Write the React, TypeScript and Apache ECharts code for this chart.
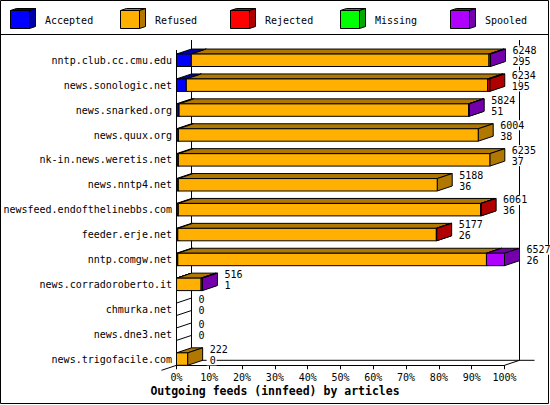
import React, { useEffect, useRef } from "react";
import * as echarts from "echarts";

// ---------- data ----------
const HOSTS = [
  "nntp.club.cc.cmu.edu",
  "news.sonologic.net",
  "news.snarked.org",
  "news.quux.org",
  "nk-in.news.weretis.net",
  "news.nntp4.net",
  "newsfeed.endofthelinebbs.com",
  "feeder.erje.net",
  "nntp.comgw.net",
  "news.corradoroberto.it",
  "chmurka.net",
  "news.dne3.net",
  "news.trigofacile.com",
];
const STATUSES = ["Accepted", "Refused", "Rejected", "Missing", "Spooled"];
const OFFERED = [6248, 6234, 5824, 6004, 6235, 5188, 6061, 5177, 6527, 516, 0, 0, 222];
const ACCEPTED = [295, 195, 51, 38, 37, 36, 36, 26, 26, 1, 0, 0, 0];
const REFUSED = [5923, 5999, 5761, 5966, 6198, 5152, 6017, 5145, 6142, 489, 0, 0, 222];
const REJECTED = [0, 40, 0, 0, 0, 0, 8, 6, 0, 0, 0, 0, 0];
const MISSING = [0, 0, 0, 0, 0, 0, 0, 0, 0, 0, 0, 0, 0];
const SPOOLED = [30, 0, 12, 0, 0, 0, 0, 0, 359, 26, 0, 0, 0];
const X_MAX = 100;
const X_STEP = 10;

// ---------- styles ----------
const FRONT_COLORS = ["#0000ff", "#ffb000", "#ff0000", "#00ff00", "#b000ff"];
const SIDE_COLORS = ["#0000a8", "#b07800", "#b00000", "#00a800", "#7400ac"];
const MONO = '"DejaVu Sans Mono", "Liberation Mono", monospace';
const W = 550;
const H = 405;
const DX = 15;
const DY = 5;
const GRID = { left: 176.5, right: 45.5, top: 41.6, bottom: 39.7 };

function App() {
  const ref = useRef<HTMLDivElement>(null);

  useEffect(() => {
    if (!ref.current) return;
    const chart = echarts.init(ref.current, null, { renderer: "svg", width: W, height: H });

    const SEGMENTS = [ACCEPTED, REFUSED, REJECTED, MISSING, SPOOLED];
    const MAXV = Math.max(...OFFERED);
    const toPct = (v: number) => (v / MAXV) * 100;

    const X0 = GRID.left;
    const X1 = W - GRID.right;
    const YB = H - GRID.bottom;
    const BX0 = X0 + DX;
    const BX1 = X1 + DX;
    const BYB = YB - DY;
    const BACK_TOP = 40;

    const seriesList: any[] = SEGMENTS.map((arr, k) => {
      const data = HOSTS.map((_, i) => {
        let start = 0;
        for (let j = 0; j < k; j++) start += SEGMENTS[j][i];
        const end = start + arr[i];
        return [i, toPct(start), toPct(end), arr[i], OFFERED[i]];
      });
      return {
        type: "custom",
        name: STATUSES[k],
        z: 3,
        encode: { x: [1, 2], y: 0 },
        data,
        renderItem: (params: any, api: any) => {
          const i = api.value(0);
          const s = api.value(1);
          const e = api.value(2);
          const v = api.value(3);
          const tot = api.value(4);
          const a = api.coord([s, i]);
          const b = api.coord([e, i]);
          const band = api.size([0, 1])[1];
          const top = a[1];
          const bot = top + band * 0.5;
          const x0 = a[0];
          const x1 = b[0];
          if (!(v > 0)) {
            if (k === 0 && tot === 0) {
              return {
                type: "polygon",
                shape: { points: [[x0, top], [x0 + DX, top - DY], [x0 + DX, bot - DY], [x0, bot]] },
                style: { fill: "none", stroke: "#000", lineWidth: 1 },
              };
            }
            return null;
          }
          return {
            type: "group",
            children: [
              {
                type: "polygon",
                shape: { points: [[x0, top], [x1, top], [x1 + DX, top - DY], [x0 + DX, top - DY]] },
                style: { fill: SIDE_COLORS[k], stroke: "#000", lineWidth: 1 },
              },
              {
                type: "polygon",
                shape: { points: [[x1, top], [x1 + DX, top - DY], [x1 + DX, bot - DY], [x1, bot]] },
                style: { fill: SIDE_COLORS[k], stroke: "#000", lineWidth: 1 },
              },
              {
                type: "rect",
                shape: { x: x0, y: top, width: x1 - x0, height: bot - top },
                style: { fill: FRONT_COLORS[k], stroke: "#000", lineWidth: 1 },
              },
            ],
          };
        },
      };
    });

    seriesList.push({
      type: "custom",
      name: "labels",
      z: 6,
      encode: { x: 1, y: 0 },
      data: HOSTS.map((_, i) => [i, toPct(OFFERED[i]), OFFERED[i], ACCEPTED[i]]),
      renderItem: (params: any, api: any) => {
        const i = api.value(0);
        const p = api.coord([api.value(1), i]);
        const top = p[1];
        const x = p[0] + DX + 4;
        const mk = (txt: string, y: number) => ({
          type: "text",
          x,
          y,
          style: {
            text: txt,
            fill: "#000",
            font: `10px ${MONO}`,
            align: "left",
            verticalAlign: "middle",
            backgroundColor: "#fff",
            padding: [0, 1, 0, 3],
          },
        });
        return {
          type: "group",
          children: [mk(String(api.value(2)), top - 3.5), mk(String(api.value(3)), top + 7.5)],
        };
      },
    });

    const line = (x1: number, y1: number, x2: number, y2: number) => ({
      type: "line",
      z: 1,
      shape: { x1, y1, x2, y2 },
      style: { stroke: "#000", lineWidth: 1 },
    });

    const legend: any[] = STATUSES.map((name, k) => {
      const lx = 10.5 + 110 * k;
      const ly = 10.5;
      const fw = 19;
      const fh = 18;
      const d = 6;
      const dd = 2;
      return {
        type: "group",
        z: 10,
        children: [
          {
            type: "polygon",
            shape: { points: [[lx, ly], [lx + d, ly - dd], [lx + fw + d, ly - dd], [lx + fw, ly]] },
            style: { fill: SIDE_COLORS[k], stroke: "#000", lineWidth: 1 },
          },
          {
            type: "polygon",
            shape: { points: [[lx + fw, ly], [lx + fw + d, ly - dd], [lx + fw + d, ly + fh - dd], [lx + fw, ly + fh]] },
            style: { fill: SIDE_COLORS[k], stroke: "#000", lineWidth: 1 },
          },
          {
            type: "rect",
            shape: { x: lx, y: ly, width: fw, height: fh },
            style: { fill: FRONT_COLORS[k], stroke: "#000", lineWidth: 1 },
          },
          {
            type: "text",
            x: lx + 34.5,
            y: 20,
            style: { text: name, fill: "#000", font: `10px ${MONO}`, align: "left", verticalAlign: "middle" },
          },
        ],
      };
    });

    const option: any = {
      animation: false,
      backgroundColor: "#fff",
      title: {
        text: "Outgoing feeds (innfeed) by articles",
        left: "center",
        top: 385,
        padding: 0,
        textStyle: { fontFamily: MONO, fontSize: 11.5, fontWeight: "bold", color: "#000" },
      },
      grid: { ...GRID, containLabel: false },
      xAxis: {
        type: "value",
        min: 0,
        max: X_MAX,
        interval: X_STEP,
        axisLine: { show: true, lineStyle: { color: "#000", width: 1 } },
        axisTick: { show: true, length: 4, lineStyle: { color: "#000", width: 1 } },
        axisLabel: { formatter: "{value}%", color: "#000", fontFamily: MONO, fontSize: 10, margin: 7 },
        splitLine: { show: false },
      },
      yAxis: {
        type: "category",
        data: HOSTS,
        inverse: true,
        axisLine: { show: false },
        axisTick: { show: false },
        axisLabel: {
          color: "#000",
          fontFamily: MONO,
          fontSize: 10,
          margin: 4.5,
          verticalAlign: "top",
          lineHeight: 12.5,
        },
        splitLine: { show: false },
      },
      graphic: [
        {
          type: "rect",
          z: 0,
          shape: { x: 0.5, y: 0.5, width: 548, height: 403 },
          style: { fill: "none", stroke: "#000", lineWidth: 1 },
        },
        line(0, 34.5, 549, 34.5),
        line(BX0, BACK_TOP, BX0, BYB),
        line(BX1, BACK_TOP, BX1, BYB),
        line(BX0, BYB, BX1 + DX, BYB),
        line(X0 - DX, YB + DY, BX0, BYB),
        line(X1, YB, BX1, BYB),
        line(X0, 50, X0, YB),
        ...legend,
      ],
      series: seriesList,
    };

    chart.setOption(option);
    return () => chart.dispose();
  }, []);

  return (
    <div
      ref={ref}
      style={{ position: "fixed", left: 0, top: 0, width: W, height: H, background: "#fff" }}
    />
  );
}

export default App;
